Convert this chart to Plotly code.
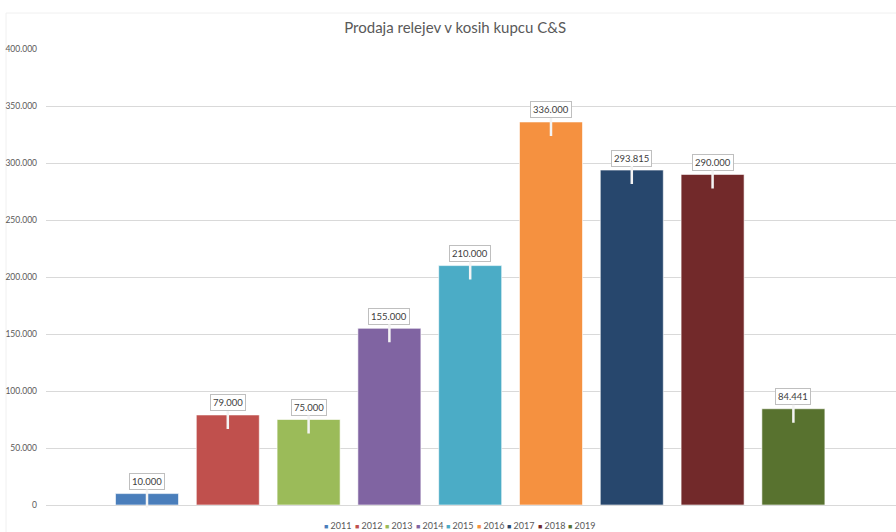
import plotly.graph_objects as go

years = ["2011", "2012", "2013", "2014", "2015", "2016", "2017", "2018", "2019"]
values = [10000, 79000, 75000, 155000, 210000, 336000, 293815, 290000, 84441]
colors = ["#4A7EBB", "#C0504D", "#9BBB59", "#8064A2", "#4BACC6",
          "#F59140", "#27476D", "#72292A", "#58722F"]
title = "Prodaja relejev v kosih kupcu C&S"
yticks = [0, 50000, 100000, 150000, 200000, 250000, 300000, 350000, 400000]

FONT = "Lato, Open Sans, sans-serif"

def fmt(v):
    return f"{v:,}".replace(",", ".")

fig = go.Figure()
for yr, v, c in zip(years, values, colors):
    fig.add_trace(go.Bar(
        x=[yr], y=[v], name=yr, width=0.78, showlegend=False,
        marker=dict(color=c, line=dict(color="rgba(255,255,255,0.6)", width=1)),
        hoverinfo="skip",
    ))

annotations = []
# data-label callouts
for i, v in enumerate(values):
    annotations.append(dict(
        x=i, y=v, xref="x", yref="y",
        text=fmt(v), showarrow=True, arrowhead=0, arrowwidth=2.5,
        arrowcolor="#F4F4F4", ax=0, ay=-26, yshift=-14,
        bgcolor="white", bordercolor="#BFBFBF", borderwidth=1, borderpad=2,
        font=dict(family=FONT, size=9.5, color="#404040"),
    ))

# compact legend row beneath the plot
plot_left, plot_w = 46, 850
for i, (yr, c) in enumerate(zip(years, colors)):
    xpix = 322 + 30.5 * i
    annotations.append(dict(
        x=(xpix - plot_left) / plot_w, y=-0.046, xref="paper", yref="paper",
        xanchor="left", yanchor="middle", showarrow=False,
        text=f"<span style='color:{c};font-size:7px'>■</span> {yr}",
        font=dict(family=FONT, size=9, color="#595959"),
    ))

fig.update_layout(
    width=896, height=532,
    margin=dict(l=46, r=0, t=49, b=27),
    paper_bgcolor="white", plot_bgcolor="white",
    separators=",.",
    barmode="overlay",
    showlegend=False,
    title=dict(text=title, x=0.508, xanchor="center", y=0.948, yanchor="middle",
               font=dict(family=FONT, size=15, color="#595959")),
    xaxis=dict(type="category", categoryorder="array", categoryarray=years,
               range=[-1.25, 9.27], showticklabels=False, showgrid=False,
               zeroline=False, showline=False, ticks=""),
    yaxis=dict(range=[0, 400000], tickvals=yticks, tickformat=",.0f",
               showgrid=True, gridcolor="#D9D9D9", gridwidth=1,
               zeroline=True, zerolinecolor="#D9D9D9", zerolinewidth=1,
               showline=False, ticks="", ticklabelstandoff=8,
               tickfont=dict(family=FONT, size=8.5, color="#595959")),
    annotations=annotations,
    shapes=[dict(type="rect", xref="paper", yref="paper",
                 x0=(6 - 46) / 850, x1=1.02, y0=-0.1, y1=(505 - 13) / 456,
                 line=dict(color="#F0F0F0", width=1), layer="below")],
)

fig.write_html("out.html")
